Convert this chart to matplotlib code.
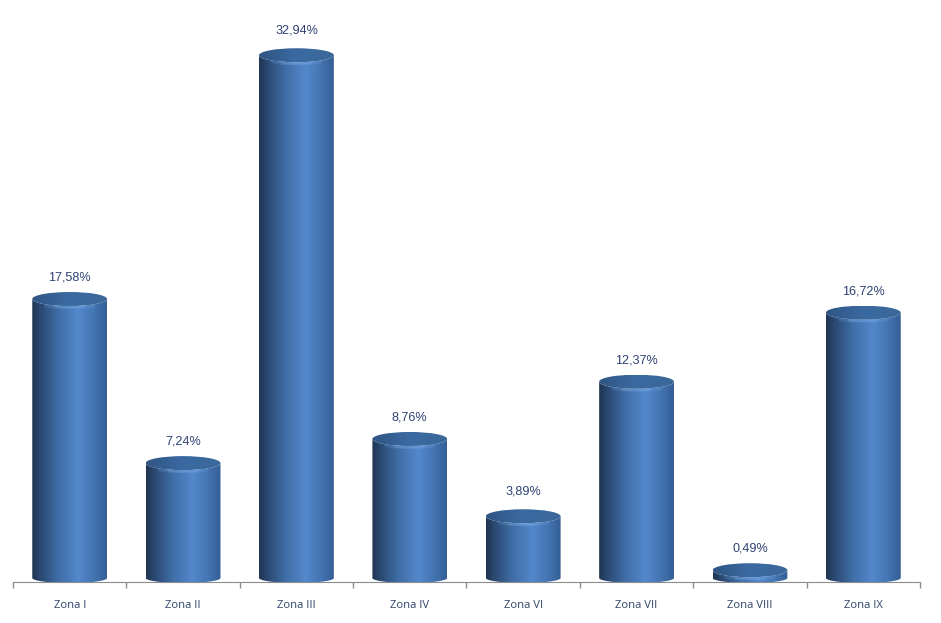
import numpy as np
import matplotlib
matplotlib.use('Agg')
import matplotlib.pyplot as plt
from matplotlib.colors import LinearSegmentedColormap
from matplotlib.patches import Ellipse, PathPatch
from matplotlib.path import Path

zones = ['Zona I', 'Zona II', 'Zona III', 'Zona IV', 'Zona VI', 'Zona VII', 'Zona VIII', 'Zona IX']
values = [17.58, 7.24, 32.94, 8.76, 3.89, 12.37, 0.49, 16.72]
labels = ['17,58%', '7,24%', '32,94%', '8,76%', '3,89%', '12,37%', '0,49%', '16,72%']

W, H = 941, 623
px_per_unit = 15.87      # vertical scale, pixels for one percent
base_px = 582            # y of the axis line in the picture
zero_px = 578            # y of the centre of the cylinder foot
ry = 7.0 / px_per_unit   # half height of the lid
foot_ry = 5.0 / px_per_unit
half_w = 0.33            # half width of a cylinder
label_nudge = {2: 2, 4: 2}   # these two labels sit a little higher

fig = plt.figure(figsize=(W / 100, H / 100), dpi=100)
ax = fig.add_axes([13 / W, 1 - base_px / H, (920 - 13) / W, (base_px - 2) / H])

body_cmap = LinearSegmentedColormap.from_list('body', [
    (0.0, '#1f3552'), (0.12, '#2b4a74'), (0.35, '#3f6da6'),
    (0.62, '#5388cc'), (0.82, '#4576b4'), (1.0, '#345f96')])
top_cmap = LinearSegmentedColormap.from_list('top', [
    (0.0, '#2f5583'), (0.5, '#3b6aa2'), (1.0, '#3a6899')])
grad = np.linspace(0, 1, 200).reshape(1, -1)

for i, v in enumerate(values):
    t = np.linspace(np.pi, 2 * np.pi, 60)
    # side and foot of the cylinder, the foot dips below zero
    foot = np.column_stack([i + half_w * np.cos(t), foot_ry * np.sin(t)])
    head = np.column_stack([i + half_w * np.cos(t[::-1]), v + ry * np.sin(t[::-1])])
    pts = np.vstack([foot, head, foot[:1]])
    clip = PathPatch(Path(pts), transform=ax.transData, fc='none', ec='none')
    ax.add_patch(clip)
    im = ax.imshow(grad, cmap=body_cmap, aspect='auto', zorder=2,
                   extent=[i - half_w, i + half_w, -2 * foot_ry, v + ry])
    im.set_clip_path(clip)
    im.set_clip_box(None)

    # light rim under the lid, soft on both ends
    for a, lw, n in [(0.18, 2.4, 16), (0.3, 1.4, 22)]:
        rim = np.column_stack([i + half_w * 0.97 * np.cos(t[n:60 - n]),
                               v + ry * np.sin(t[n:60 - n]) - 0.09])
        ax.plot(rim[:, 0], rim[:, 1], color='#7fb2ea', lw=lw, alpha=a, zorder=3,
                solid_capstyle='round')

    lid = Ellipse((i, v), 2 * half_w, 2 * ry, fc='none', ec='none')
    ax.add_patch(lid)
    im2 = ax.imshow(grad, cmap=top_cmap, aspect='auto', zorder=4,
                    extent=[i - half_w, i + half_w, v - ry, v + ry])
    im2.set_clip_path(lid)

    ax.annotate(labels[i], (i, v), xytext=(0, 11.2 + label_nudge.get(i, 0)),
                textcoords='offset points', ha='center', va='bottom', fontsize=9.1,
                color='#2d4173', family='Liberation Sans', zorder=5)

ax.set_xlim(-0.5, 7.5)
ax.set_ylim(-(base_px - zero_px) / px_per_unit, (zero_px - 2) / px_per_unit)

for s in ['top', 'left', 'right']:
    ax.spines[s].set_visible(False)
ax.patch.set_alpha(0)
ax.spines['bottom'].set_color('#8c8c8c')
ax.spines['bottom'].set_zorder(1)
ax.yaxis.set_visible(False)

ax.set_xticks(np.arange(len(zones)))
ax.set_xticklabels(zones, family='Open Sans', fontsize=8.1, color='#2f4468')
ax.tick_params(axis='x', which='major', length=0, pad=13)
ax.set_xticks(np.arange(len(zones) + 1) - 0.5, minor=True)
ax.tick_params(axis='x', which='minor', length=4, color='#8c8c8c', width=1)

fig.savefig('out.png', dpi=100)
